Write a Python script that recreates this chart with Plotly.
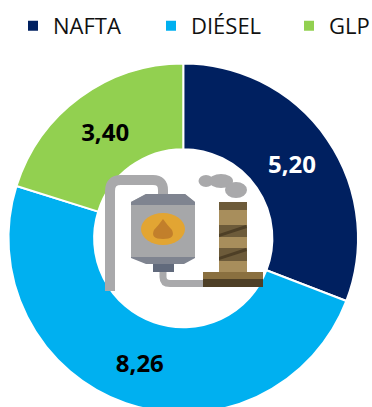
import plotly.graph_objects as go

categories = ["NAFTA", "DIÉSEL", "GLP"]
values = [5.20, 8.26, 3.40]
colors = ["#002060", "#00B0F0", "#92D050"]
label_colors = ["white", "black", "black"]

W, H = 520, 420  # larger than the window: the ring is clipped at the bottom edge, legend keeps one row
FONT = "Open Sans"

fig = go.Figure(go.Pie(
    labels=categories, values=values, sort=False, direction="clockwise", rotation=0,
    hole=0.51, marker=dict(colors=colors, line=dict(color="white", width=2)),
    texttemplate="%{value:.2f}", textinfo="value", textposition="inside",
    insidetextorientation="horizontal",
    textfont=dict(family=FONT, size=24, color=label_colors, weight="bold"),
    domain=dict(x=[7.5/W, 359/W], y=[(H-413)/H, (H-63.5)/H]),
    hoverinfo="label+value",
))


def X(x):
    return x / W


def Y(y):
    return 1 - y / H


def path(cmds):
    out = []
    for c in cmds:
        op, pts = c[0], c[1:]
        out.append(op + " ".join(f"{X(pts[i]):.5f},{Y(pts[i+1]):.5f}" for i in range(0, len(pts), 2)))
    return " ".join(out)


shapes = []


def poly(pts, fill):
    cmds = [("M", *pts[0])] + [("L", *p) for p in pts[1:]]
    shapes.append(dict(type="path", xref="paper", yref="paper", path=path(cmds) + " Z",
                       fillcolor=fill, line=dict(width=0)))


def stroke(cmds, color, w):
    shapes.append(dict(type="path", xref="paper", yref="paper", path=path(cmds),
                       line=dict(color=color, width=w), fillcolor="rgba(0,0,0,0)"))


def ell(cx, cy, rx, ry, fill):
    shapes.append(dict(type="circle", xref="paper", yref="paper", x0=X(cx-rx), x1=X(cx+rx),
                       y0=Y(cy+ry), y1=Y(cy-ry), fillcolor=fill, line=dict(width=0)))


PIPE = "#A9A9AB"
# refinery icon in the hole of the ring
stroke([("M", 110, 291), ("L", 110, 191), ("Q", 110, 180, 121, 180), ("L", 153, 180),
        ("Q", 163, 180, 163, 190), ("L", 163, 197)], PIPE, 10)
stroke([("M", 163, 270), ("L", 163, 277), ("Q", 163, 283.5, 170, 283.5), ("L", 206, 283.5)], PIPE, 7)
poly([(131, 257), (131, 202), (146, 194), (185, 194), (195, 202), (195, 257)], "#A6A7A9")
poly([(131, 205), (131, 202), (146, 194), (185, 194), (195, 202), (195, 205)], "#7F8490")
poly([(131, 257), (195, 257), (195, 258), (184, 264), (146, 264), (131, 258)], "#7F8490")
poly([(153, 264), (174, 264), (174, 272), (153, 272)], "#616A7C")
ell(163, 229, 22, 16, "#E2A533")
shapes.append(dict(type="path", xref="paper", yref="paper", line=dict(width=0), fillcolor="#C27F2B",
                   path=path([("M", 163, 219), ("Q", 168, 226, 172, 230), ("Q", 176, 239, 163, 239),
                              ("Q", 150, 239, 154, 230), ("Q", 158, 226, 163, 219)]) + " Z"))
poly([(219, 202), (247, 202), (247, 272), (219, 272)], "#A88E5C")
poly([(219, 202), (247, 202), (247, 210), (219, 210)], "#6D5B3A")
poly([(219, 225), (247, 225), (247, 237), (219, 237)], "#6D5B3A")
poly([(219, 248), (247, 248), (247, 261), (219, 261)], "#6D5B3A")
poly([(219, 234), (246, 225), (247, 228), (219, 237)], "#4E3F26")
poly([(219, 257), (246, 248), (247, 251), (219, 260)], "#4E3F26")
poly([(203, 272), (263, 272), (263, 279), (203, 279)], "#8A7040")
poly([(203, 279), (263, 279), (263, 287), (203, 287)], "#4E3F26")
ell(206, 181, 7.5, 6, PIPE)
ell(221, 181, 12, 7, PIPE)
ell(236, 190, 11, 8, PIPE)

fig.update_layout(
    width=W, height=H, autosize=False, margin=dict(l=0, r=0, t=0, b=0),
    paper_bgcolor="white", plot_bgcolor="white", separators=",.", shapes=shapes,
    showlegend=True,
    legend=dict(orientation="h", x=13/W, xanchor="left", y=1 - 5/H, yanchor="top",
                entrywidth=93, entrywidthmode="pixels", traceorder="normal",
                font=dict(family=FONT, size=22, color="#111111"), bgcolor="rgba(0,0,0,0)",
                itemclick=False, itemdoubleclick=False),
)

fig.write_html("out.html", config={"displayModeBar": False},
               post_script="document.documentElement.style.overflow='hidden';document.body.style.overflow='hidden';document.body.style.margin='0';")
